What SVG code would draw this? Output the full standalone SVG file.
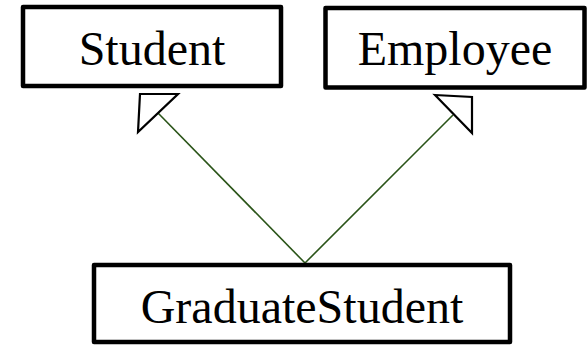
<svg xmlns="http://www.w3.org/2000/svg" width="588" height="345" viewBox="0 0 588 345">
<style>
.box{fill:#fff;stroke:#000;stroke-width:4.5;stroke-linejoin:round}
.lbl{font-family:"Liberation Serif","Times New Roman",serif;font-size:48px;fill:#000;text-anchor:middle}
.conn{stroke:#2a5418;stroke-width:1.6;fill:none}
.head{fill:#fff;stroke:#000;stroke-width:2.2;stroke-linejoin:miter}
</style>
<rect width="588" height="345" fill="#fff"/>
<g id="connectors">
<line class="conn" x1="305" y1="263" x2="158" y2="113"/>
<line class="conn" x1="305" y1="263" x2="453" y2="115"/>
<polygon class="head" points="140,94 178,94 138,132"/>
<polygon class="head" points="435,95 472,97 472,133"/>
</g>
<g id="student">
<rect class="box" x="23" y="7" width="258" height="79"/>
<text class="lbl" x="152" y="65">Student</text>
</g>
<g id="employee">
<rect class="box" x="325.5" y="8" width="259" height="79.5"/>
<text class="lbl" x="455" y="65">Employee</text>
</g>
<g id="graduatestudent">
<rect class="box" x="94" y="265" width="416" height="77"/>
<text class="lbl" x="302" y="323">GraduateStudent</text>
</g>
</svg>
